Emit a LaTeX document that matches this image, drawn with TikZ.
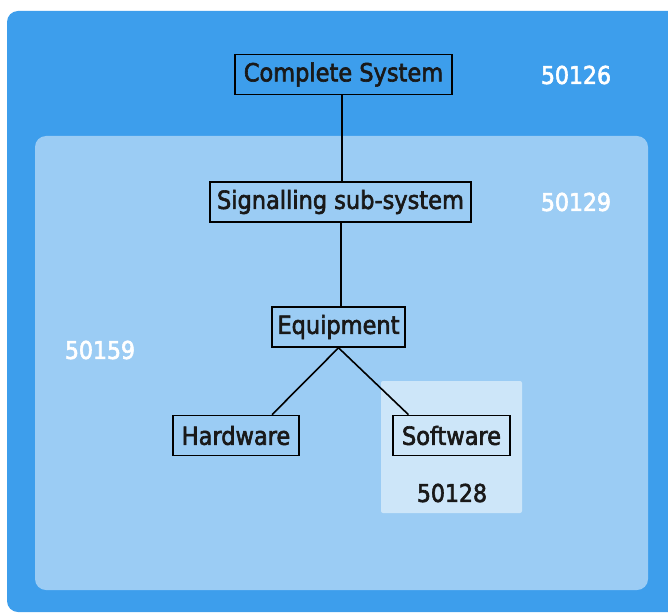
\documentclass[tikz,border=0pt]{standalone}
\usepackage{fontspec}
\setmainfont{DejaVu Sans Condensed}
\definecolor{outerblue}{HTML}{3D9EEC}
\definecolor{innerblue}{HTML}{9BCCF4}
\definecolor{paleblue}{HTML}{CDE6F9}
\tikzset{
  heavytext/.style={execute at begin node={\special{pdf:literal direct 2 Tr 0.6 w}}, execute at end node={\special{pdf:literal direct 0 Tr}}},
  box/.style={draw=black, line width=1.6pt, minimum height=40pt, inner xsep=5pt, font=\fontsize{25}{28}\selectfont, text=black!90, heavytext},
  num/.style={font=\fontsize{24.5}{28}\selectfont, text=white, heavytext},
  conn/.style={draw=black, line width=1.6pt}
}
\begin{document}
\begin{tikzpicture}[x=1pt,y=-1pt]
\useasboundingbox (0,0) rectangle (668,612);
\clip (0,0) rectangle (668,612);
\fill[white] (0,0) rectangle (668,612);
\fill[outerblue, rounded corners=11pt] (7,11) rectangle (690,612);
\fill[innerblue, rounded corners=11pt] (35,136) rectangle (648,590);
\fill[paleblue, rounded corners=2pt] (381,381) rectangle (522,513);
\node[box, minimum width=217pt] (cs) at (343.5,74.5) {Complete System};
\node[box, minimum width=261pt] (ss) at (340.5,202) {Signalling sub-system};
\node[box, minimum width=133pt] (eq) at (338.5,327) {Equipment};
\node[box, minimum width=126pt] (hw) at (236,435.5) {Hardware};
\node[box, minimum width=117pt] (sw) at (451.5,435.5) {Software};
\node[num] (n1) at (576,75) {50126};
\node[num] (n2) at (576,202) {50129};
\node[num] (n3) at (100,350) {50159};
\node[num, text=black!90] (n4) at (452,493) {50128};
\draw[conn] ([xshift=-1.5pt]cs.south) -- ([xshift=-1.5pt]cs.south |- ss.north);
\draw[conn] ([xshift=0.5pt]ss.south) -- ([xshift=0.5pt]ss.south |- eq.north);
\draw[conn] (eq.south) -- ([xshift=36pt]hw.north);
\draw[conn] (eq.south) -- ([xshift=-43pt]sw.north);
\end{tikzpicture}
\end{document}
